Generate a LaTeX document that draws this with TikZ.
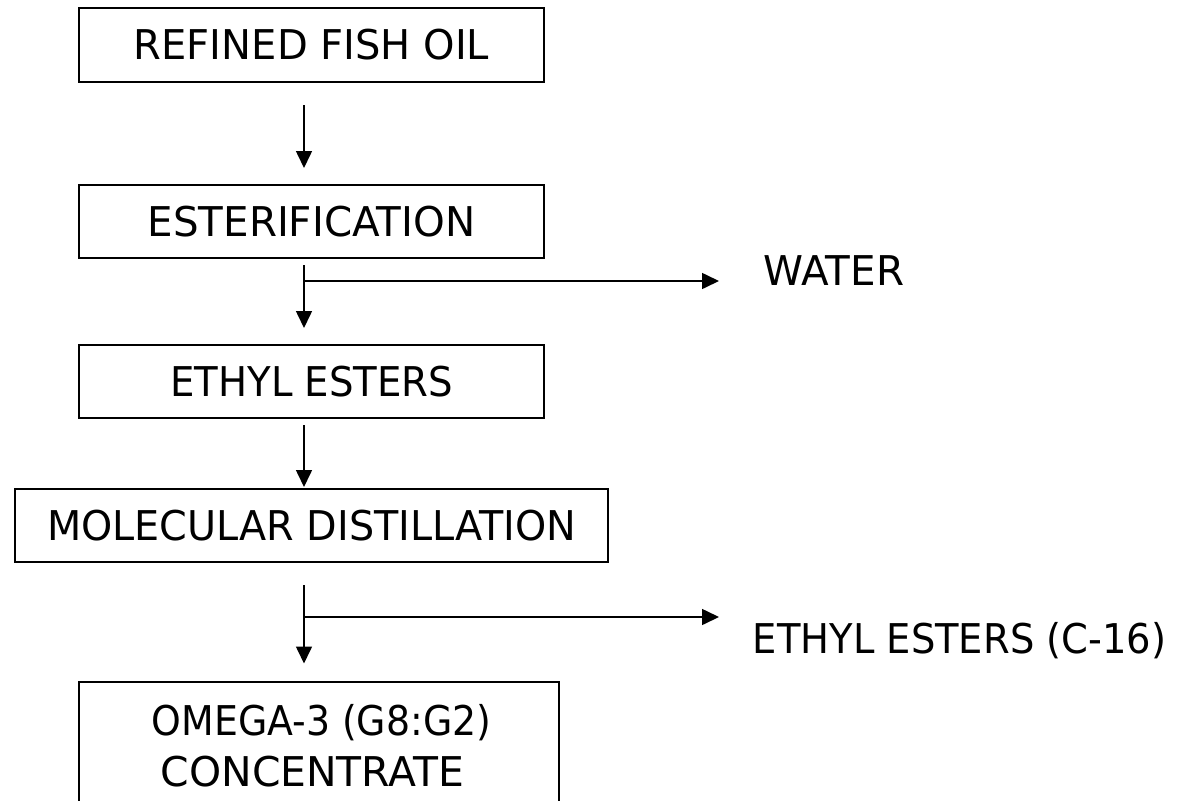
\documentclass[tikz,border=0pt]{standalone}
\usepackage{graphicx}
\usepackage{fontspec}
\setmainfont{DejaVu Sans}
\usetikzlibrary{arrows.meta}
\newcommand{\hsq}[2]{\scalebox{#1}[1]{#2}}
\begin{document}
\begin{tikzpicture}[x=1pt,y=-1pt,
  procbox/.style={draw=black,line width=2pt,inner sep=0pt,font=\fontsize{41}{52}\selectfont},
  txt/.style={inner sep=0pt,font=\fontsize{41}{52}\selectfont},
  flow/.style={line width=1.6pt,-{Triangle[width=16pt,length=17pt]}}]
\useasboundingbox (0,0) rectangle (1177,800);
\begin{scope}
\clip (0,0) rectangle (1177,800);
\node[procbox,minimum width=465pt,minimum height=74pt] (b1) at (311.5,45) {\hsq{0.976}{REFINED FISH OIL}};
\node[procbox,minimum width=465pt,minimum height=72.7pt] (b2) at (311.5,221.3) {\hsq{0.985}{ESTERIFICATION}};
\node[procbox,minimum width=465pt,minimum height=72.7pt] (b3) at (311.8,381.3) {\hsq{0.943}{ETHYL ESTERS}};
\node[procbox,minimum width=593pt,minimum height=72.7pt] (b4) at (311.8,525.3) {\hsq{0.968}{MOLECULAR DISTILLATION}};
\node[procbox,minimum width=480pt,minimum height=160pt,anchor=north] (b5) at (319,681) {};
\end{scope}
\node[txt,anchor=base] (b5a) at (321.5,735) {\hsq{0.923}{OMEGA-3 (G8:G2)}};
\node[txt,anchor=base] (b5b) at (312.5,786.7) {\hsq{0.997}{CONCENTRATE}};
\node[txt,anchor=base west] (water) at (763.3,285) {\hsq{0.986}{WATER}};
\node[txt,anchor=base west] (c16) at (752.7,653.3) {\hsq{0.938}{ETHYL ESTERS (C-16)}};
\coordinate (a1s) at (304,105);
\coordinate (a1e) at (304,168);
\coordinate (a2s) at (304,265);
\coordinate (a2j) at (304,281);
\coordinate (a2e) at (304,328);
\coordinate (a2w) at (719,281);
\coordinate (a3s) at (304,425);
\coordinate (a3e) at (304,487);
\coordinate (a4s) at (304,585);
\coordinate (a4j) at (304,617);
\coordinate (a4e) at (304,663.5);
\coordinate (a4w) at (719,617);
\draw[flow] (a1s) -- (a1e);
\draw[flow] (a2s) -- (a2e);
\draw[flow] (a2j) -- (a2w);
\draw[flow] (a3s) -- (a3e);
\draw[flow] (a4s) -- (a4e);
\draw[flow] (a4j) -- (a4w);
\end{tikzpicture}
\end{document}
